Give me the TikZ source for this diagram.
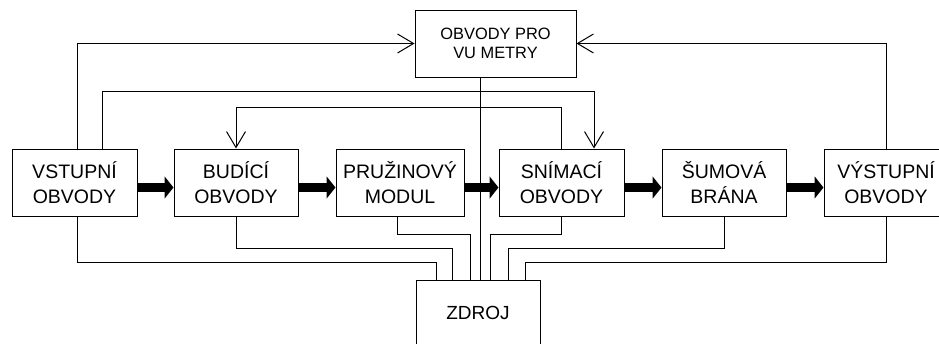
\documentclass[tikz,border=0pt]{standalone}
\usepackage{fontspec}
\setmainfont{Liberation Sans}
\usetikzlibrary{arrows.meta}

\begin{document}
\begin{tikzpicture}[x=1pt,y=1pt,line width=1pt,
    blok/.style={draw,minimum width=124pt,minimum height=67pt,inner sep=0pt,align=center,
      font=\fontsize{19.5}{25}\selectfont},
    sipka/.style={-{Straight Barb[length=16pt,width=19pt]}},
    tok/.style={line width=9pt,-{Triangle[length=9pt,width=22pt]}}]
    \useasboundingbox (0,0) rectangle (939,-343);
    \node[blok,minimum width=125pt] (vst) at (74.5,-182.5) {VSTUPNÍ\\OBVODY};
    \node[blok] (bud) at (236,-182.5) {BUDÍCÍ\\OBVODY};
    \node[blok,minimum width=128pt] (pru) at (400,-182.5) {PRUŽINOVÝ\\MODUL};
    \node[blok,minimum width=125pt] (sni) at (561.5,-182.5) {SNÍMACÍ\\OBVODY};
    \node[blok] (sum) at (724,-182.5) {ŠUMOVÁ\\BRÁNA};
    \node[blok] (vys) at (886,-182.5) {VÝSTUPNÍ\\OBVODY};
    \node[blok,minimum width=161pt,font=\fontsize{16.4}{18.5}\selectfont] (vu) at (495.5,-43.5) {OBVODY PRO\\VU METRY};
    \node[blok,minimum height=66pt,font=\fontsize{19}{22}\selectfont] (zdr) at (478,-313) {ZDROJ};
    % signal
    \draw[tok] ([yshift=-5pt]vst.east) -- ([yshift=-5pt]bud.west);
    \draw[tok] ([yshift=-5pt]bud.east) -- ([yshift=-5pt]pru.west);
    \draw[tok] ([yshift=-5pt]pru.east) -- ([yshift=-5pt]sni.west);
    \draw[tok] ([yshift=-5pt]sni.east) -- ([yshift=-5pt]sum.west);
    \draw[tok] ([yshift=-5pt]sum.east) -- ([yshift=-5pt]vys.west);
    % zpetne vazby a mereni
    \draw[sipka] ([xshift=2.5pt]vst.north) |- (vu.west);
    \draw[sipka] (vys.north) |- (vu.east);
    \draw[sipka] ([xshift=27.5pt]vst.north) -- ++(0,57) -| ([xshift=32.5pt]sni.north);
    \draw[sipka] (sni.north) -- ++(0,41) -| (bud.north);
    % napajeni
    \draw ([xshift=2.5pt]vst.south) -- ++(0,-46) -| ([xshift=-42pt]zdr.north);
    \draw (bud.south) -- ++(0,-32) -| ([xshift=-26pt]zdr.north);
    \draw ([xshift=-3pt]pru.south) -- ++(0,-18) -| ([xshift=-8pt]zdr.north);
    \draw ([xshift=-15.5pt]vu.south) -- ([xshift=2pt]zdr.north);
    \draw (sni.south) -- ++(0,-18) -| ([xshift=12.5pt]zdr.north);
    \draw (sum.south) -- ++(0,-32) -| ([xshift=30pt]zdr.north);
    \draw (vys.south) -- ++(0,-46) -| ([xshift=47pt]zdr.north);
  \end{tikzpicture}
\end{document}
